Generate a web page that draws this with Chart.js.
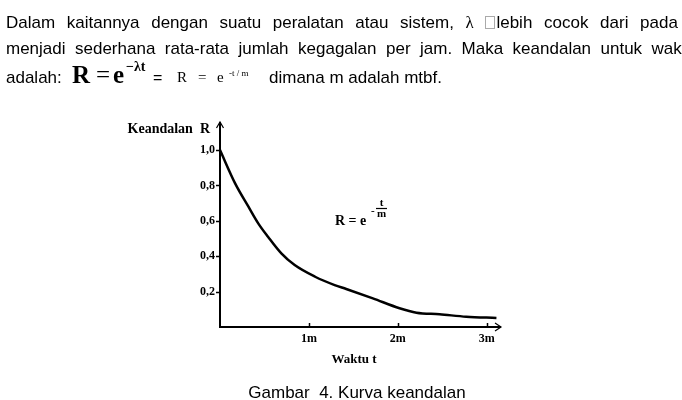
<!DOCTYPE html>
<html><head><meta charset="utf-8">
<script src="https://cdn.jsdelivr.net/npm/chart.js@4/dist/chart.umd.min.js"></script>
<style>
html,body{margin:0;padding:0;background:#fff;width:682px;height:400px;overflow:hidden;}
body{position:relative;font-family:"Liberation Sans",Arial,sans-serif;color:#000;}
#wrap{position:absolute;left:0;top:0;width:682px;height:400px;}
.ln{position:absolute;left:6px;font-size:17px;line-height:20px;display:flex;justify-content:space-between;white-space:nowrap;}
.s{position:absolute;white-space:pre;line-height:1;}
.sf{font-family:"Liberation Serif","Times New Roman",serif;}
.ss{font-family:"Liberation Sans",Arial,sans-serif;}
.box{display:inline-block;width:8px;height:11px;border:1px solid #aaa;margin-right:1px;vertical-align:-1px;color:transparent;font-size:1px;overflow:hidden;}
</style></head>
<body>
<div id="wrap"><canvas id="c" width="682" height="400"></canvas></div>

<div class="ln" style="top:13px;width:672px"><span>Dalam</span><span>kaitannya</span><span>dengan</span><span>suatu</span><span>peralatan</span><span>atau</span><span>sistem,</span><span class="sf">λ</span><span><span class="box">□</span>lebih</span><span>cocok</span><span>dari</span><span>pada</span></div>
<div class="ln" style="top:39px;width:690px"><span>menjadi</span><span>sederhana</span><span>rata-rata</span><span>jumlah</span><span>kegagalan</span><span>per</span><span>jam.</span><span>Maka</span><span>keandalan</span><span>untuk</span><span>waktu</span></div>

<span class="s ss" style="left:6px;top:68.6px;font-size:17px">adalah:</span>
<span class="s sf" style="left:72px;top:62px;font-size:25px;font-weight:bold">R</span>
<span class="s sf" style="left:96px;top:62px;font-size:25px">=</span>
<span class="s sf" style="left:113px;top:62px;font-size:25px;font-weight:bold">e</span>
<span class="s sf" style="left:126px;top:60px;font-size:14px;font-weight:bold">−λt</span>
<span class="s ss" style="left:153px;top:69.5px;font-size:16px">=</span>
<span class="s sf" style="left:177px;top:70.4px;font-size:15px">R</span>
<span class="s sf" style="left:198px;top:70.4px;font-size:15px">=</span>
<span class="s sf" style="left:217px;top:70.4px;font-size:15px">e</span>
<span class="s sf" style="left:229px;top:68.5px;font-size:9px">-t / m</span>
<span class="s ss" style="left:269px;top:68.6px;font-size:17px">dimana m adalah mtbf.</span>

<span class="s ss" style="left:0;top:383.6px;width:714px;text-align:center;font-size:17px">Gambar  4. Kurva keandalan</span>

<script>
// ---- data ----
const tValues = [0, 0.17, 0.32, 0.43, 0.54, 0.69, 0.84, 1.07, 1.29, 1.42, 1.72, 2.02, 2.21, 2.47, 2.77, 3.11];
const rValues = [1.0, 0.812, 0.68, 0.586, 0.51, 0.416, 0.35, 0.284, 0.237, 0.215, 0.162, 0.106, 0.081, 0.072, 0.058, 0.051];
const xTickValues = [1, 2, 3];
const xTickLabels = ['1m', '2m', '3m'];
const yTickValues = [0.2, 0.4, 0.6, 0.8, 1.0];
const yTickLabels = ['0,2', '0,4', '0,6', '0,8', '1,0'];
const xAxisTitle = 'Waktu t';
const yAxisTitle = 'Keandalan  R';

const serif = '"Liberation Serif", "Times New Roman", serif';

const decor = {
  id: 'decor',
  afterDraw(chart) {
    const ctx = chart.ctx, xs = chart.scales.x, ys = chart.scales.y, a = chart.chartArea;
    ctx.save();
    ctx.strokeStyle = '#000';
    ctx.fillStyle = '#000';
    ctx.lineWidth = 1.5;
    // tick marks
    yTickValues.forEach(v => {
      const y = Math.round(ys.getPixelForValue(v)) + 0.5;
      ctx.beginPath(); ctx.moveTo(a.left - 4, y); ctx.lineTo(a.left, y); ctx.stroke();
    });
    xTickValues.forEach(v => {
      const x = Math.round(xs.getPixelForValue(v)) + 0.5;
      ctx.beginPath(); ctx.moveTo(x, a.bottom); ctx.lineTo(x, a.bottom - 4); ctx.stroke();
    });
    // arrows
    ctx.lineWidth = 1.2;
    ctx.beginPath();
    ctx.moveTo(a.left - 3.5, a.top + 5); ctx.lineTo(a.left, a.top - 1); ctx.lineTo(a.left + 3.5, a.top + 5);
    ctx.stroke();
    ctx.beginPath();
    ctx.moveTo(a.right - 5, a.bottom - 4); ctx.lineTo(a.right + 1, a.bottom); ctx.lineTo(a.right - 5, a.bottom + 4);
    ctx.stroke();
    // axis titles
    ctx.font = 'bold 14px ' + serif;
    ctx.textAlign = 'right';
    ctx.textBaseline = 'alphabetic';
    ctx.fillText(yAxisTitle, a.left - 10, a.top + 10);
    ctx.font = 'bold 13px ' + serif;
    ctx.textAlign = 'center';
    ctx.fillText(xAxisTitle, (a.left + a.right) / 2 - 6, a.bottom + 36);
    // formula R = e^(-t/m)
    ctx.textAlign = 'left';
    ctx.font = 'bold 14px ' + serif;
    ctx.fillText('R = e', 335, 225);
    ctx.font = 'bold 11px ' + serif;
    ctx.fillText('-', 371, 214);
    ctx.textAlign = 'center';
    ctx.fillText('t', 381.5, 206);
    ctx.fillText('m', 381.5, 217);
    ctx.lineWidth = 1.2;
    ctx.beginPath(); ctx.moveTo(376, 208.5); ctx.lineTo(387, 208.5); ctx.stroke();
    ctx.restore();
  }
};

new Chart(document.getElementById('c').getContext('2d'), {
  type: 'line',
  data: {
    datasets: [{
      data: tValues.map((t, i) => ({ x: t, y: rValues[i] })),
      borderColor: '#000',
      borderWidth: 2.5,
      pointRadius: 0,
      fill: false,
      cubicInterpolationMode: 'monotone'
    }]
  },
  options: {
    responsive: false,
    animation: false,
    devicePixelRatio: 1,
    layout: { padding: { left: 0, top: 123, right: 182, bottom: 0 } },
    plugins: { legend: { display: false }, tooltip: { enabled: false } },
    scales: {
      x: {
        type: 'linear', min: 0, max: 3.15,
        grid: { display: false, drawTicks: false },
        border: { display: true, color: '#000', width: 2 },
        afterBuildTicks: s => { s.ticks = xTickValues.map(v => ({ value: v })); },
        afterFit: s => { s.height = 73; },
        ticks: {
          padding: 5, color: '#000', autoSkip: false, maxRotation: 0,
          font: { family: serif, weight: 'bold', size: 12 },
          callback: (v, i) => xTickLabels[i]
        }
      },
      y: {
        type: 'linear', min: 0, max: 1.153,
        grid: { display: false, drawTicks: false },
        border: { display: true, color: '#000', width: 2 },
        afterBuildTicks: s => { s.ticks = yTickValues.map(v => ({ value: v })); },
        afterFit: s => { s.width = 220; },
        ticks: {
          padding: 5, color: '#000', autoSkip: false,
          font: { family: serif, weight: 'bold', size: 12 },
          callback: (v, i) => yTickLabels[i]
        }
      }
    }
  },
  plugins: [decor]
});
</script>
</body></html>
